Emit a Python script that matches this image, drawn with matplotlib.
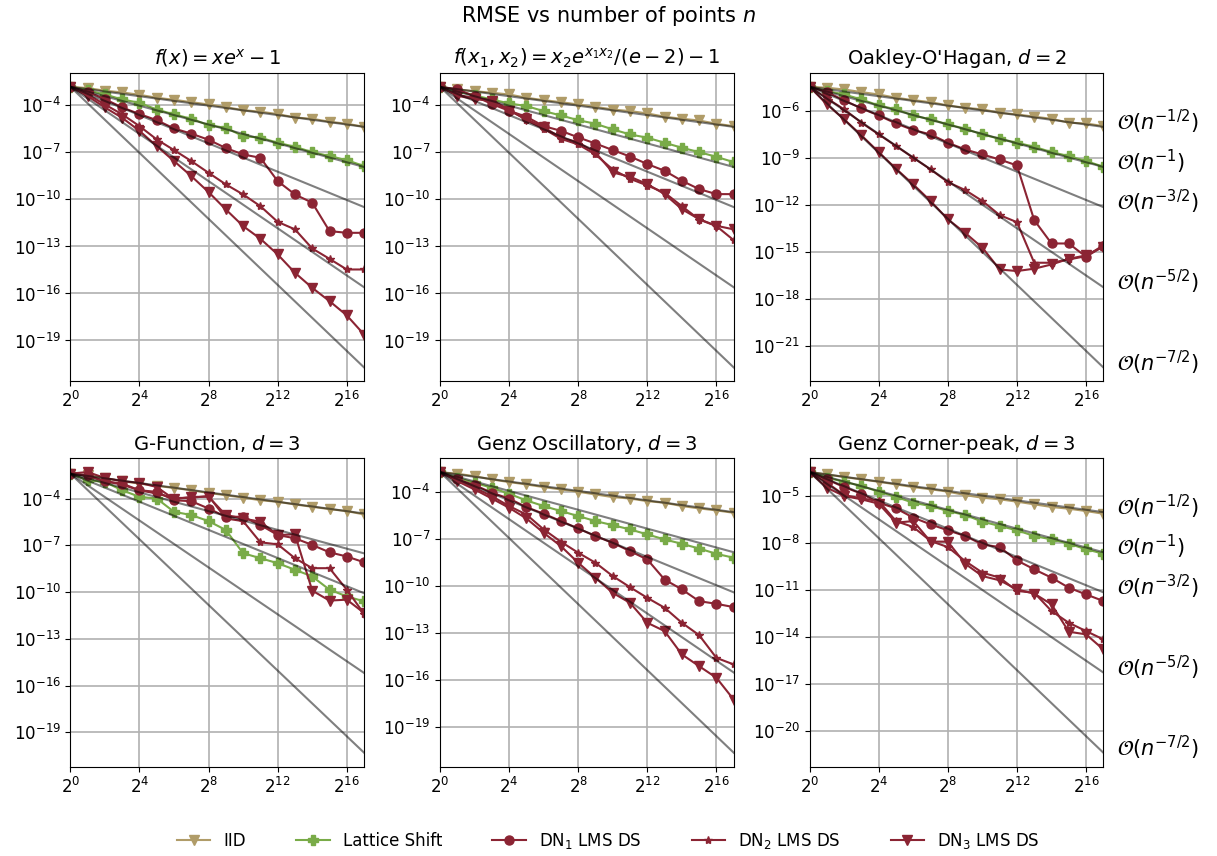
import numpy as np
import matplotlib
matplotlib.use("Agg")
import matplotlib.pyplot as plt

# sample sizes n = 2^0 ... 2^17
n = 2.0 ** np.arange(18)

titles = [r"$f(x) = xe^x - 1$",
          r"$f(x_1, x_2) = x_2 e^{x_1 x_2}/(e-2) - 1$",
          r"Oakley-O'Hagan, $d=2$",
          r"G-Function, $d=3$",
          r"Genz Oscillatory, $d=3$",
          r"Genz Corner-peak, $d=3$"]

labels = ["IID", "Lattice Shift", r"DN$_1$ LMS DS", r"DN$_2$ LMS DS", r"DN$_3$ LMS DS"]
rates = [0.5, 1.0, 1.5, 2.5, 3.5]
rate_labels = [r"$\mathcal{O}(n^{-1/2})$", r"$\mathcal{O}(n^{-1})$", r"$\mathcal{O}(n^{-3/2})$",
               r"$\mathcal{O}(n^{-5/2})$", r"$\mathcal{O}(n^{-7/2})$"]

# log10 RMSE, one list per method per panel
iid = [
    [-2.81, -2.89, -3.06, -3.17, -3.32, -3.51, -3.64, -3.79, -3.94, -4.11, -4.30, -4.40, -4.55, -4.77, -4.85, -5.04, -5.17, -5.36],
    [-2.81, -2.98, -3.09, -3.19, -3.30, -3.51, -3.66, -3.79, -3.94, -4.09, -4.26, -4.36, -4.51, -4.72, -4.85, -4.96, -5.17, -5.32],
    [-4.45, -4.51, -4.62, -4.79, -4.94, -5.15, -5.30, -5.43, -5.64, -5.79, -5.89, -6.11, -6.21, -6.36, -6.49, -6.74, -6.79, -6.96],
    [-2.40, -2.51, -2.68, -2.89, -3.04, -3.19, -3.32, -3.47, -3.64, -3.79, -3.94, -4.11, -4.21, -4.38, -4.53, -4.68, -4.81, -5.02],
    [-2.74, -2.85, -3.00, -3.21, -3.38, -3.53, -3.70, -3.85, -4.00, -4.17, -4.34, -4.43, -4.60, -4.70, -4.91, -5.06, -5.19, -5.34],
    [-3.47, -3.62, -3.79, -3.94, -4.09, -4.26, -4.43, -4.57, -4.72, -4.94, -5.11, -5.21, -5.36, -5.53, -5.70, -5.81, -5.96, -6.13],
]
lattice = [
    [-2.81, -3.04, -3.30, -3.62, -3.83, -4.26, -4.57, -4.85, -5.26, -5.43, -5.96, -6.06, -6.38, -6.64, -6.98, -7.23, -7.49, -7.87],
    [-2.81, -3.09, -3.36, -3.62, -3.87, -4.04, -4.36, -4.64, -4.94, -5.17, -5.53, -5.85, -6.06, -6.38, -6.70, -6.98, -7.28, -7.62],
    [-4.45, -4.72, -4.94, -5.26, -5.64, -5.89, -6.28, -6.53, -6.85, -7.13, -7.49, -7.77, -8.02, -8.28, -8.62, -8.87, -9.19, -9.55],
    [-2.40, -2.83, -2.94, -3.47, -3.89, -4.00, -4.85, -5.06, -5.45, -6.02, -7.51, -7.83, -8.15, -8.57, -9.00, -9.85, -10.28, -10.60],
    [-2.74, -3.11, -3.43, -3.74, -4.13, -4.55, -4.91, -5.23, -5.55, -5.87, -6.13, -6.40, -6.72, -7.04, -7.32, -7.62, -7.96, -8.21],
    [-3.47, -3.83, -4.09, -4.36, -4.72, -5.06, -5.43, -5.64, -5.96, -6.21, -6.64, -6.91, -7.19, -7.55, -7.77, -8.04, -8.40, -8.68],
]
dn1 = [
    [-2.81, -3.13, -3.60, -4.13, -4.55, -4.94, -5.47, -5.80, -6.19, -6.72, -7.13, -7.34, -8.83, -9.68, -10.21, -12.02, -12.13, -12.13],
    [-2.81, -2.98, -3.40, -3.91, -4.34, -4.72, -5.32, -5.62, -6.04, -6.43, -6.85, -7.26, -7.74, -8.17, -8.81, -9.34, -9.66, -9.66],
    [-4.45, -4.79, -5.32, -5.83, -6.28, -6.79, -7.21, -7.49, -8.02, -8.45, -8.77, -9.09, -9.47, -12.96, -14.45, -14.45, -15.30, -14.62],
    [-2.40, -2.51, -2.89, -3.04, -3.47, -3.57, -4.11, -4.17, -4.64, -5.17, -5.17, -5.70, -6.34, -6.55, -6.98, -7.45, -7.72, -8.09],
    [-2.74, -3.21, -3.57, -4.06, -4.43, -4.98, -5.40, -5.87, -6.34, -6.83, -7.26, -7.79, -8.32, -9.60, -10.23, -10.98, -11.15, -11.36],
    [-3.47, -3.94, -4.43, -4.85, -5.43, -5.79, -6.38, -6.81, -7.19, -7.55, -8.09, -8.26, -9.11, -9.68, -10.21, -10.85, -11.28, -11.70],
]
dn2 = [
    [-2.81, -3.30, -3.94, -4.57, -5.32, -6.17, -6.85, -7.55, -8.30, -9.04, -9.68, -10.43, -11.43, -11.91, -13.13, -13.79, -14.47, -14.47],
    [-2.81, -3.32, -3.53, -3.66, -4.26, -4.94, -5.49, -6.13, -6.49, -7.13, -8.09, -8.68, -9.11, -9.57, -10.43, -11.28, -11.70, -12.60],
    [-4.45, -5.19, -5.89, -6.74, -7.49, -8.23, -8.98, -9.72, -10.53, -11.04, -11.74, -12.64, -13.09, -15.68, -15.68, -15.47, -15.26, -14.57],
    [-2.40, -2.55, -2.89, -3.11, -3.47, -3.68, -3.96, -3.96, -3.83, -5.28, -5.45, -6.81, -6.94, -7.83, -8.47, -8.47, -9.85, -11.40],
    [-2.74, -3.21, -3.74, -4.28, -4.91, -5.45, -6.40, -7.19, -7.89, -8.53, -9.38, -10.09, -10.77, -11.40, -12.36, -13.15, -14.60, -15.02],
    [-3.47, -4.15, -4.94, -5.15, -5.32, -6.60, -6.98, -7.87, -8.26, -9.15, -9.89, -10.21, -11.06, -11.17, -12.34, -13.09, -13.62, -14.15],
]
dn3 = [
    [-2.81, -3.40, -4.13, -4.79, -5.62, -6.60, -7.55, -8.51, -9.53, -10.64, -11.70, -12.51, -13.51, -14.68, -15.64, -16.49, -17.40, -18.62],
    [-2.81, -3.38, -3.60, -3.70, -4.34, -4.87, -5.40, -6.04, -6.36, -7.00, -8.28, -8.55, -9.02, -9.66, -10.62, -11.26, -11.68, -11.91],
    [-4.45, -5.57, -6.53, -7.55, -8.62, -9.68, -10.68, -11.74, -12.91, -13.77, -14.72, -16.11, -16.21, -16.06, -15.79, -15.43, -15.21, -14.66],
    [-2.40, -2.30, -2.68, -2.89, -2.99, -3.26, -4.04, -3.89, -3.89, -5.06, -5.28, -5.49, -6.34, -6.30, -9.91, -10.55, -10.49, -11.34],
    [-2.74, -3.32, -3.85, -4.43, -5.02, -5.70, -6.62, -7.47, -8.53, -9.49, -10.45, -11.09, -12.36, -12.89, -14.38, -15.13, -15.87, -17.26],
    [-3.47, -4.47, -5.00, -5.21, -5.49, -6.70, -6.60, -7.91, -7.91, -9.32, -10.11, -10.38, -10.96, -11.23, -11.91, -13.66, -13.83, -14.79],
]
top_tick = [-4, -4, -6, -4, -4, -5]

c_iid = "#b09c68"
c_lat = "#79ab48"
c_dn = "#8b2433"
styles = [(c_iid, "v", 6.5), (c_lat, "P", 6.5), (c_dn, "o", 6.5), (c_dn, "*", 6), (c_dn, "v", 6.5)]

fig, axes = plt.subplots(2, 3, figsize=(12.17, 8.56), dpi=100)
fig.subplots_adjust(left=0.0578, right=0.9066, top=0.915, bottom=0.1043, wspace=0.2585, hspace=0.248)

for i, ax in enumerate(axes.flat):
    series = [iid[i], lattice[i], dn1[i], dn2[i], dn3[i]]
    for vals, lab, (c, m, ms) in zip(series, labels, styles):
        ax.plot(n, 10.0 ** np.array(vals), color=c, marker=m, markersize=ms, lw=1.5, label=lab)
    y0 = 10.0 ** iid[i][0]
    for r, rl in zip(rates, rate_labels):
        ax.plot(n, y0 * n ** (-r), color="black", alpha=0.5, lw=1.5)
        if i % 3 == 2:
            ax.annotate(rl, xy=(n[-1], y0 * n[-1] ** (-r)), xytext=(14, 5), textcoords="offset pixels",
                        va="center", ha="left", fontsize=15, annotation_clip=False)
    ax.set_xscale("log", base=2)
    ax.set_yscale("log")
    ax.set_xlim(1, n[-1])
    ax.set_xticks(2.0 ** np.arange(0, 17, 4))
    lo = np.log10(y0) - 3.5 * 17 * np.log10(2)
    ax.set_yticks(10.0 ** np.arange(top_tick[i], lo, -3))
    ax.minorticks_off()
    ax.tick_params(labelsize=12)
    ax.grid(True, color="#b0b0b0", lw=1.2)
    ax.set_title(titles[i], fontsize=14)

fig.suptitle(r"RMSE vs number of points $n$", fontsize=15, y=0.995)
handles, labs = axes[0, 0].get_legend_handles_labels()
fig.legend(handles, labs, loc="lower center", ncol=5, frameon=False, fontsize=12,
           bbox_to_anchor=(0.5, -0.012), columnspacing=3.0)

fig.savefig("out.png", dpi=100)
